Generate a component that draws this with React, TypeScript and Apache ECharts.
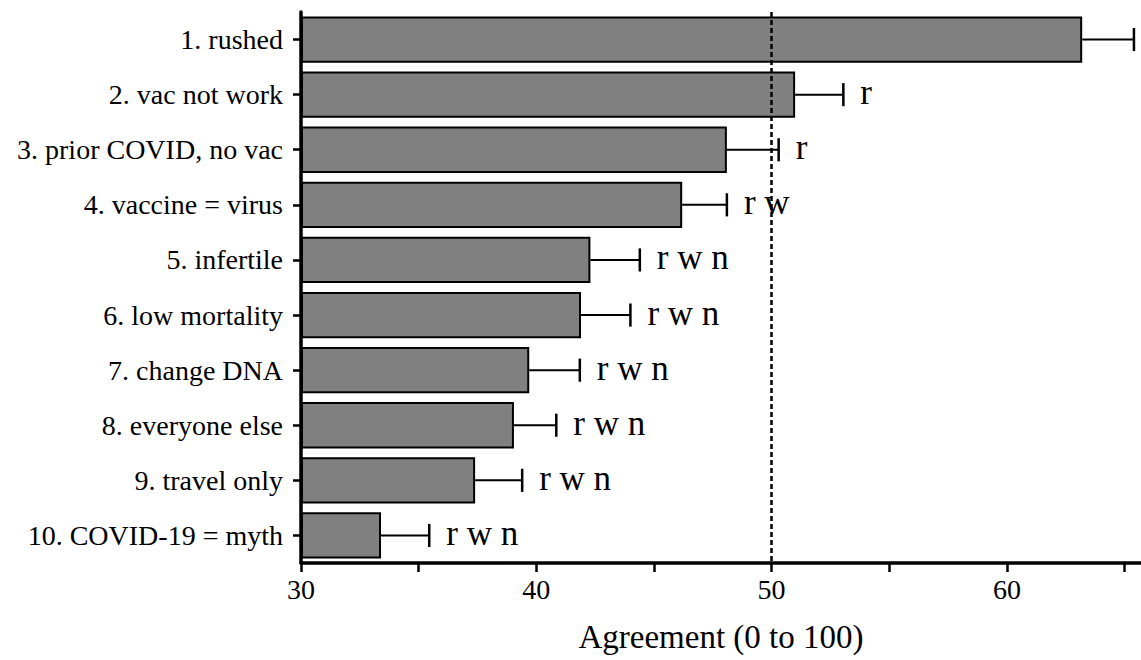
import React, { useEffect, useRef } from "react";
import * as echarts from "echarts";

const categories = [
  "1. rushed",
  "2. vac not work",
  "3. prior COVID, no vac",
  "4. vaccine = virus",
  "5. infertile",
  "6. low mortality",
  "7. change DNA",
  "8. everyone else",
  "9. travel only",
  "10. COVID-19 = myth",
];
const means = [63.2, 51.0, 48.1, 46.2, 42.3, 41.9, 39.7, 39.05, 37.4, 33.4];
const errors = [2.2, 2.05, 2.2, 1.9, 2.1, 2.1, 2.15, 1.8, 2.0, 2.05];
const marks = ["", "r", "r", "r w", "r w n", "r w n", "r w n", "r w n", "r w n", "r w n"];
const majorTicks = [30, 40, 50, 60];
const allTicks = [30, 35, 40, 45, 50, 55, 60, 65];
const refValue = 50;

const FONT = "Liberation Serif";

export default function App() {
  const ref = useRef<HTMLDivElement>(null);
  useEffect(() => {
    if (!ref.current) return;
    const chart = echarts.init(ref.current, null, { renderer: "svg" });
    const errData = means.map((m, i) => [m, i, errors[i], marks[i]]);
    chart.setOption({
      animation: false,
      textStyle: { fontFamily: FONT },
      grid: { left: 301, right: 0, top: 12, bottom: 97, containLabel: false },
      xAxis: {
        type: "value",
        min: 30,
        max: 65.7,
        startValue: 30,
        name: "Agreement (0 to 100)",
        nameLocation: "middle",
        nameGap: 57,
        nameTextStyle: { fontFamily: FONT, fontSize: 33, color: "#000" },
        axisLine: { show: true, lineStyle: { color: "#000", width: 3.5 } },
        axisTick: {
          show: true,
          customValues: allTicks,
          length: 9,
          lineStyle: { color: "#000", width: 2.5 },
        },
        axisLabel: {
          customValues: majorTicks,
          fontFamily: FONT,
          fontSize: 28,
          color: "#000",
          margin: 12,
        },
        splitLine: { show: false },
      },
      yAxis: {
        type: "category",
        data: categories,
        inverse: true,
        axisLine: { show: true, lineStyle: { color: "#000", width: 3.5 } },
        axisTick: {
          show: true,
          alignWithLabel: true,
          length: 8,
          lineStyle: { color: "#000", width: 2.5 },
        },
        axisLabel: {
          fontFamily: FONT,
          fontSize: 28,
          color: "#000",
          margin: 18,
        },
      },
      series: [
        {
          type: "bar",
          data: means,
          barCategoryGap: "16%",
          itemStyle: { color: "#808080", borderColor: "#000", borderWidth: 2 },
          markLine: {
            silent: true,
            symbol: "none",
            label: { show: false },
            lineStyle: { color: "#000", type: [5, 3], width: 2.5 },
            data: [{ xAxis: refValue }],
          },
        },
        {
          type: "custom",
          data: errData,
          renderItem: (params: any, api: any) => {
            const m = api.value(0);
            const idx = api.value(1);
            const e = api.value(2);
            const lab = marks[params.dataIndex];
            const p0 = api.coord([m, idx]);
            const p1 = api.coord([m + e, idx]);
            const band = api.size([0, 1])[1];
            const half = band * 0.21;
            const children: any[] = [
              {
                type: "line",
                shape: { x1: p0[0], y1: p0[1], x2: p1[0], y2: p1[1] },
                style: { stroke: "#000", lineWidth: 2 },
              },
              {
                type: "line",
                shape: { x1: p1[0], y1: p1[1] - half, x2: p1[0], y2: p1[1] + half },
                style: { stroke: "#000", lineWidth: 2.5 },
              },
            ];
            if (lab) {
              children.push({
                type: "text",
                x: p1[0] + 17,
                y: p1[1] - 2,
                style: {
                  text: lab,
                  fontFamily: FONT,
                  fontSize: 35,
                  fill: "#000",
                  align: "left",
                  verticalAlign: "middle",
                },
              });
            }
            return { type: "group", children };
          },
          z: 5,
        },
      ],
    });
    return () => chart.dispose();
  }, []);
  return <div ref={ref} style={{ width: 1141, height: 660, position: "absolute", left: 0, top: 0 }} />;
}
